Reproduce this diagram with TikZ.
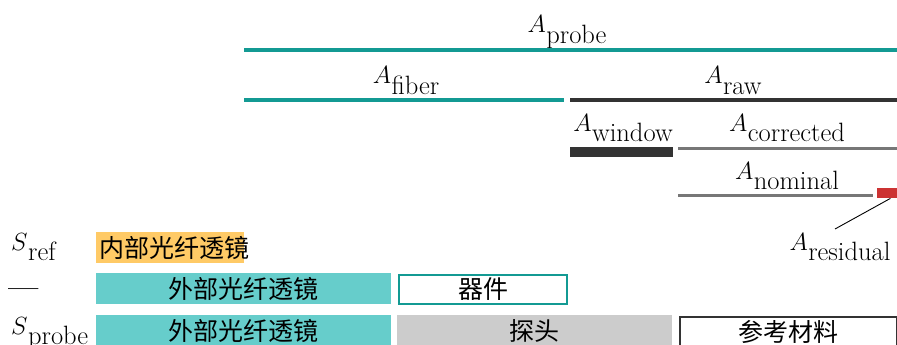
\documentclass[tikz,border=0pt]{standalone}
\usepackage{fontspec}
\newfontfamily\cjk{Noto Sans CJK SC}
\definecolor{tealline}{HTML}{139A93}
\definecolor{tealfill}{HTML}{66CDCB}
\definecolor{orangefill}{HTML}{FFCA66}
\definecolor{darkbar}{HTML}{333333}
\definecolor{midbar}{HTML}{777777}
\definecolor{redbar}{HTML}{CC3333}
\definecolor{grayfill}{HTML}{CCCCCC}
\newcommand\symlab[2]{{\fontsize{27}{30}\selectfont$#1$}\kern0.5pt\raisebox{-10.5pt}{\fontsize{26.5}{30}\selectfont #2}}
\tikzset{
  lab/.style={anchor=base, inner sep=0pt},
  cjktext/.style={font=\cjk\fontsize{25}{30}\selectfont, inner sep=0pt},
  thinbar/.style={line width=3.5pt},
  cell/.style={inner sep=0pt, minimum height=31pt, anchor=north west, font=\cjk\fontsize{25}{30}\selectfont}
}
\begin{document}
\begin{tikzpicture}[x=1pt,y=-1pt]
\useasboundingbox (0,0) rectangle (897,345);
% top labels and bars
\node[lab] (aprobe) at (567,33) {\symlab{A}{probe}};
\draw[thinbar, tealline] (244,50) -- (897,50);
\node[lab] (afiber) at (406,84) {\symlab{A}{fiber}};
\draw[thinbar, tealline] (244,100) -- (564,100);
\node[lab] (araw) at (733,84) {\symlab{A}{raw}};
\draw[thinbar, darkbar] (570,100) -- (897,100);
\node[lab] (awindow) at (623,131) {\symlab{A}{window}};
\fill[darkbar] (570,147) rectangle (673,157);
\node[lab] (acorr) at (787,131) {\symlab{A}{corrected}};
\draw[line width=3pt, midbar] (678,148) -- (897,148);
\node[lab] (anom) at (787,179) {\symlab{A}{nominal}};
\draw[line width=3pt, midbar] (678,195) -- (873,195);
\node[fill=redbar, inner sep=0pt, minimum width=20pt, minimum height=10pt, anchor=north west] (res) at (877,188) {};
\node[lab] (aresid) at (840,250) {\symlab{A}{residual}};
\coordinate (leadend) at (835,229);
\draw[line width=0.9pt] ([xshift=-7pt]res.south east) -- (leadend);
% left labels
\node[anchor=base west, inner sep=0pt] (sref) at (11,250) {\symlab{S}{ref}};
\node[anchor=base west, inner sep=0pt, font=\bfseries\fontsize{27}{30}\selectfont] (dash) at (8,296) {---};
\node[anchor=base west, inner sep=0pt] (sprobe) at (11,334) {\symlab{S}{probe}};
% row 1
\node[cell, fill=orangefill, minimum width=148pt] (inbox) at (96,232) {};
\node[cjktext, anchor=west] (intext) at (99,248) {内部光纤透镜};
% row 2
\node[cell, fill=tealfill, minimum width=295pt] (ext1) at (96,273) {外部光纤透镜};
\node[cell, draw=tealline, line width=2pt, minimum width=168pt, minimum height=29pt] (dev) at (398,274) {器件};
% row 3
\node[cell, fill=tealfill, minimum width=295pt] (ext2) at (96,315) {外部光纤透镜};
\node[cell, fill=grayfill, minimum width=275pt] (probe) at (397,315) {探头};
\node[cell, draw=darkbar, line width=2pt, minimum width=217pt, minimum height=30pt] (ref) at (679,316) {参考材料};
\end{tikzpicture}
\end{document}
